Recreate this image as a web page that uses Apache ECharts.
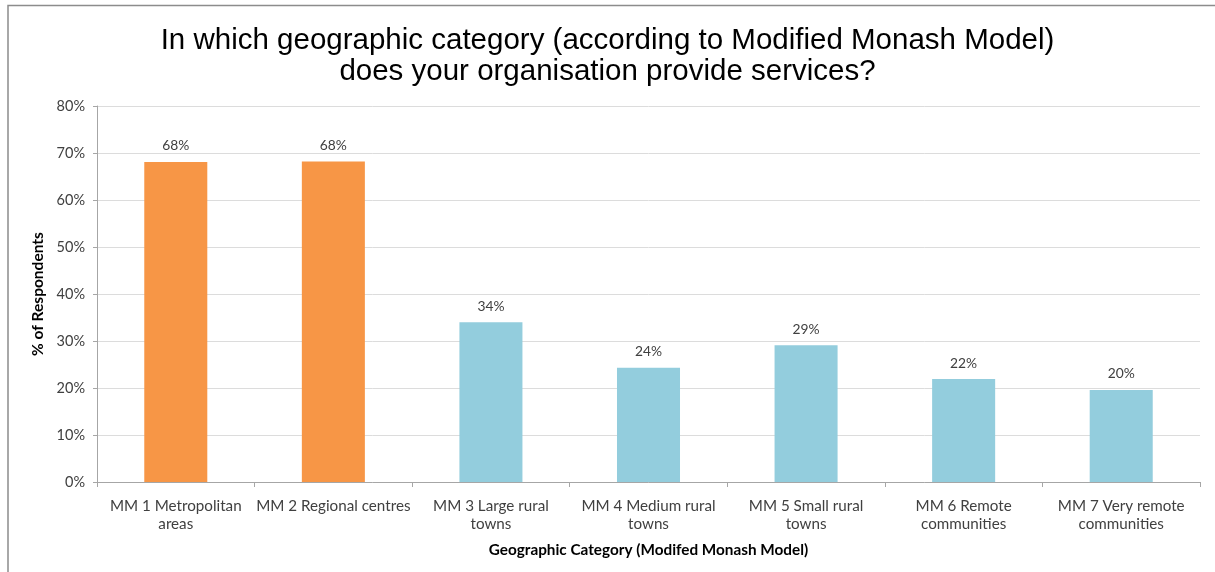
<!DOCTYPE html>
<html>
<head>
<meta charset="utf-8">
<script src="https://cdn.jsdelivr.net/npm/echarts@6/dist/echarts.min.js"></script>
<style>
  html, body { margin: 0; padding: 0; background: #fff; }
  #chart { width: 1215px; height: 572px; }
</style>
</head>
<body>
<div id="chart"></div>
<script>
// Share of respondents by Modified Monash Model category
const categories = [
  'MM 1 Metropolitan\nareas',
  'MM 2 Regional centres',
  'MM 3 Large rural\ntowns',
  'MM 4 Medium rural\ntowns',
  'MM 5 Small rural\ntowns',
  'MM 6 Remote\ncommunities',
  'MM 7 Very remote\ncommunities'
];
const respondentPct = [68.1, 68.2, 34.0, 24.3, 29.1, 21.9, 19.6];
const yTicks = [0, 10, 20, 30, 40, 50, 60, 70, 80];

const titleText = 'In which geographic category (according to Modified Monash Model)\ndoes your organisation provide services?';
const xName = 'Geographic Category (Modifed Monash Model)';
const yName = '% of Respondents';

const ORANGE = '#F79646';
const BLUE = '#93CDDD';
const TEXT = '#404040';
const labelFont = 'Lato, "Open Sans", sans-serif';

const chart = echarts.init(document.getElementById('chart'));
chart.setOption({
  backgroundColor: '#fff',
  animation: false,
  graphic: [{
    type: 'polyline',
    shape: { points: [[8, 572], [8, 5.5], [1215, 5.5]] },
    style: { stroke: '#8c8c8c', lineWidth: 1.5, fill: null }
  }],
  title: {
    text: titleText,
    left: 'center',
    top: 20,
    textStyle: {
      fontFamily: '"Liberation Sans", Arial, sans-serif',
      fontSize: 29.5,
      fontWeight: 'normal',
      color: '#000',
      lineHeight: 31
    }
  },
  grid: { left: 97, right: 15, top: 106, bottom: 90 },
  xAxis: {
    type: 'category',
    data: categories,
    name: xName,
    nameLocation: 'middle',
    nameGap: 61,
    nameTextStyle: { fontFamily: labelFont, fontSize: 15.3, fontWeight: 'bold', color: '#000' },
    axisLine: { lineStyle: { color: '#a6a6a6', width: 1 } },
    axisTick: { show: true, length: 5, alignWithLabel: false, lineStyle: { color: '#a6a6a6' } },
    axisLabel: {
      interval: 0,
      margin: 15,
      fontFamily: labelFont,
      fontSize: 15.2,
      lineHeight: 18,
      color: TEXT
    }
  },
  yAxis: {
    type: 'value',
    min: yTicks[0],
    max: yTicks[yTicks.length - 1],
    interval: 10,
    name: yName,
    nameLocation: 'middle',
    nameGap: 48,
    nameRotate: 90,
    nameTextStyle: { fontFamily: labelFont, fontSize: 15.5, fontWeight: 'bold', color: '#000' },
    axisLine: { show: true, lineStyle: { color: '#a6a6a6', width: 1 } },
    axisTick: { show: true, length: 4, lineStyle: { color: '#a6a6a6' } },
    splitLine: { lineStyle: { color: '#dcdcdc', width: 1 } },
    axisLabel: {
      margin: 12,
      fontFamily: labelFont,
      fontSize: 14.5,
      color: TEXT,
      formatter: v => v + '%'
    }
  },
  series: [{
    type: 'bar',
    data: respondentPct,
    barWidth: '40%',
    itemStyle: {
      color: p => (p.dataIndex < 2 ? ORANGE : BLUE)
    },
    label: {
      show: true,
      position: 'top',
      distance: 9,
      fontFamily: labelFont,
      fontSize: 13.8,
      color: TEXT,
      formatter: p => Math.round(p.value) + '%'
    }
  }]
});
</script>
</body>
</html>
